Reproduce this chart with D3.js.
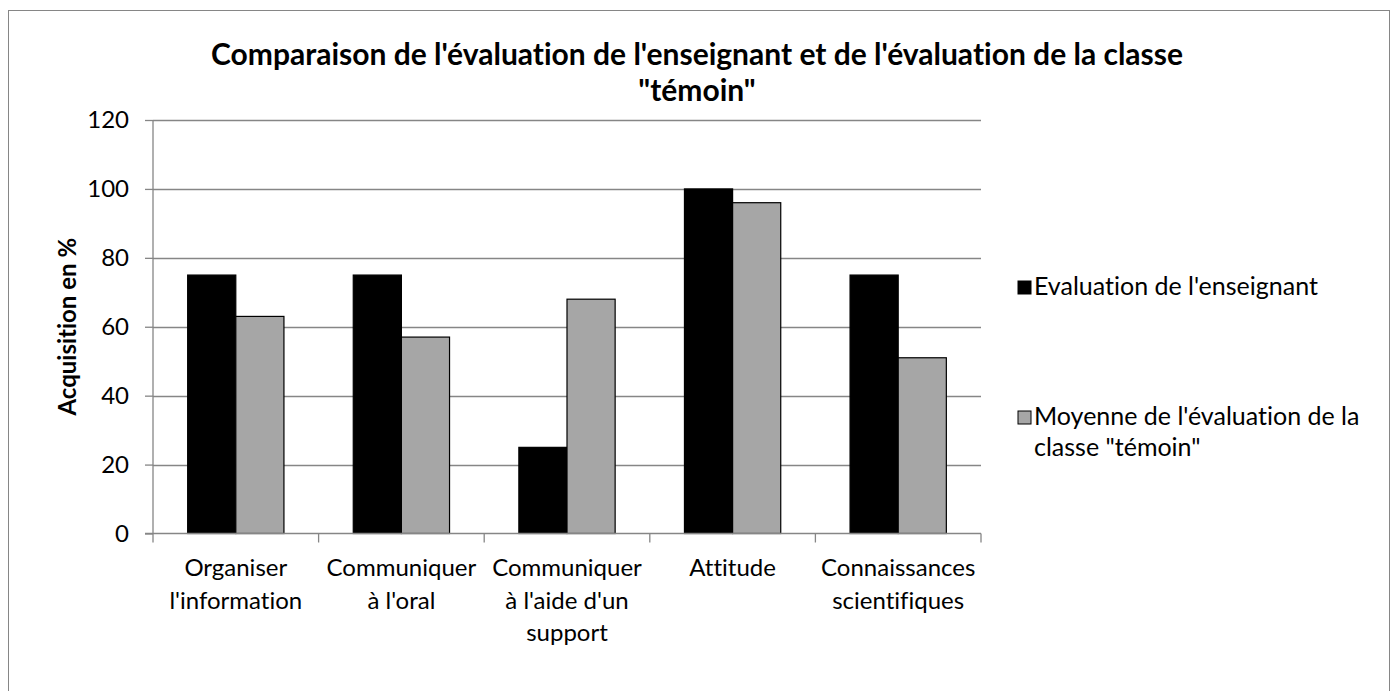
<!DOCTYPE html>
<html>
<head>
<meta charset="utf-8">
<script src="https://cdn.jsdelivr.net/npm/d3@7"></script>
<style>
  body { margin: 0; background: #fff; }
  text { font-family: Lato, 'Open Sans', sans-serif; fill: #000; font-variant-ligatures: none; }
</style>
</head>
<body>
<div id="chart"></div>
<script>
const categories = [
    ['Organiser', "l'information"],
    ['Communiquer', "à l'oral"],
    ['Communiquer', "à l'aide d'un", 'support'],
    ['Attitude'],
    ['Connaissances', 'scientifiques'],
];
const teacherValues = [75, 75, 25, 100, 75];
const controlValues = [63, 57, 68, 96, 51];
const yTicks = [0, 20, 40, 60, 80, 100, 120];
const seriesNames = [["Evaluation de l'enseignant"], ["Moyenne de l'évaluation de la", 'classe "témoin"']];
const titleLines = ["Comparaison de l'évaluation de l'enseignant et de l'évaluation de la classe", '"témoin"'];

const width = 1394,
    height = 691;
const margin = { left: 153, right: 981, top: 120, bottom: 533.5 };
const colors = ['#000000', '#a6a6a6'];

const svg = d3.select('#chart').append('svg').attr('width', width).attr('height', height);

// outer frame
svg.append('rect')
    .attr('x', 8.5)
    .attr('y', 10.5)
    .attr('width', 1381)
    .attr('height', 700)
    .attr('fill', 'none')
    .attr('stroke', '#868686')
    .attr('stroke-width', 1);

const x = d3
    .scaleBand()
    .domain(d3.range(categories.length))
    .range([margin.left, margin.right])
    .paddingInner(0)
    .paddingOuter(0);

const xInner = d3.scaleBand().domain([0, 1]).range([0, x.bandwidth()]).paddingInner(0).paddingOuter(0.72);

const y = d3.scaleLinear().domain([0, 120]).range([margin.bottom, margin.top]);

// gridlines
svg.append('g')
    .selectAll('line')
    .data(yTicks.filter((d) => d > 0))
    .enter()
    .append('line')
    .attr('x1', margin.left)
    .attr('x2', margin.right)
    .attr('y1', (d) => Math.round(y(d)) + 0.5)
    .attr('y2', (d) => Math.round(y(d)) + 0.5)
    .attr('stroke', '#868686')
    .attr('stroke-width', 1.3);

// bars
const groups = svg
    .append('g')
    .selectAll('g')
    .data(categories.map((c, i) => i))
    .enter()
    .append('g')
    .attr('transform', (i) => `translate(${x(i)},0)`);

groups
    .selectAll('rect')
    .data((i) => [teacherValues[i], controlValues[i]])
    .enter()
    .append('rect')
    .attr('x', (d, j) => xInner(j))
    .attr('y', (d) => y(d))
    .attr('width', xInner.bandwidth())
    .attr('height', (d) => y(0) - y(d))
    .attr('fill', (d, j) => colors[j])
    .attr('stroke', '#000')
    .attr('stroke-width', 1.2);

// y axis
const yAxis = svg
    .append('g')
    .attr('transform', `translate(${margin.left},0)`)
    .call(d3.axisLeft(y).tickValues(yTicks).tickSize(8).tickPadding(16));
yAxis.selectAll('path, line').attr('stroke', '#868686').attr('stroke-width', 1.3);
yAxis.select('.domain').attr('d', `M0,${y(120)}V${y(0)}`);
yAxis.selectAll('text').style('font-size', '24px').style('font-family', 'Lato, sans-serif');

// x axis
svg.append('line')
    .attr('x1', margin.left - 8)
    .attr('x2', margin.right)
    .attr('y1', y(0))
    .attr('y2', y(0))
    .attr('stroke', '#868686')
    .attr('stroke-width', 1.3);

svg.append('g')
    .selectAll('line')
    .data(d3.range(categories.length + 1))
    .enter()
    .append('line')
    .attr('x1', (i) => margin.left + i * x.bandwidth())
    .attr('x2', (i) => margin.left + i * x.bandwidth())
    .attr('y1', y(0))
    .attr('y2', y(0) + 9)
    .attr('stroke', '#868686')
    .attr('stroke-width', 1.3);

svg.append('g')
    .selectAll('text')
    .data(categories)
    .enter()
    .append('text')
    .attr('text-anchor', 'middle')
    .style('font-size', '24px')
    .each(function (lines, i) {
        d3.select(this)
            .selectAll('tspan')
            .data(lines)
            .enter()
            .append('tspan')
            .attr('x', x(i) + x.bandwidth() / 2)
            .attr('y', (d, k) => 576 + k * 32.5)
            .text((d) => d);
    });

// y axis title
svg.append('text')
    .attr('transform', `translate(76,${(y(0) + y(120)) / 2}) rotate(-90)`)
    .attr('text-anchor', 'middle')
    .style('font-size', '24px')
    .style('font-weight', 'bold')
    .text('Acquisition en %');

// title
svg.append('text')
    .attr('text-anchor', 'middle')
    .style('font-size', '30px')
    .style('font-weight', 'bold')
    .selectAll('tspan')
    .data(titleLines)
    .enter()
    .append('tspan')
    .attr('x', 697)
    .attr('y', (d, k) => 65 + k * 36)
    .text((d) => d);

// legend
const legendY = [281, 411];
const legend = svg
    .append('g')
    .selectAll('g')
    .data(seriesNames)
    .enter()
    .append('g')
    .attr('transform', (d, i) => `translate(1018,${legendY[i]})`);

legend
    .append('rect')
    .attr('width', 13)
    .attr('height', 13)
    .attr('fill', (d, i) => colors[i])
    .attr('stroke', '#000')
    .attr('stroke-width', 1);

legend
    .append('text')
    .style('font-size', '25px')
    .selectAll('tspan')
    .data((d) => d)
    .enter()
    .append('tspan')
    .attr('x', 16)
    .attr('y', (d, k) => 14 + k * 31)
    .text((d) => d);
</script>
</body>
</html>
